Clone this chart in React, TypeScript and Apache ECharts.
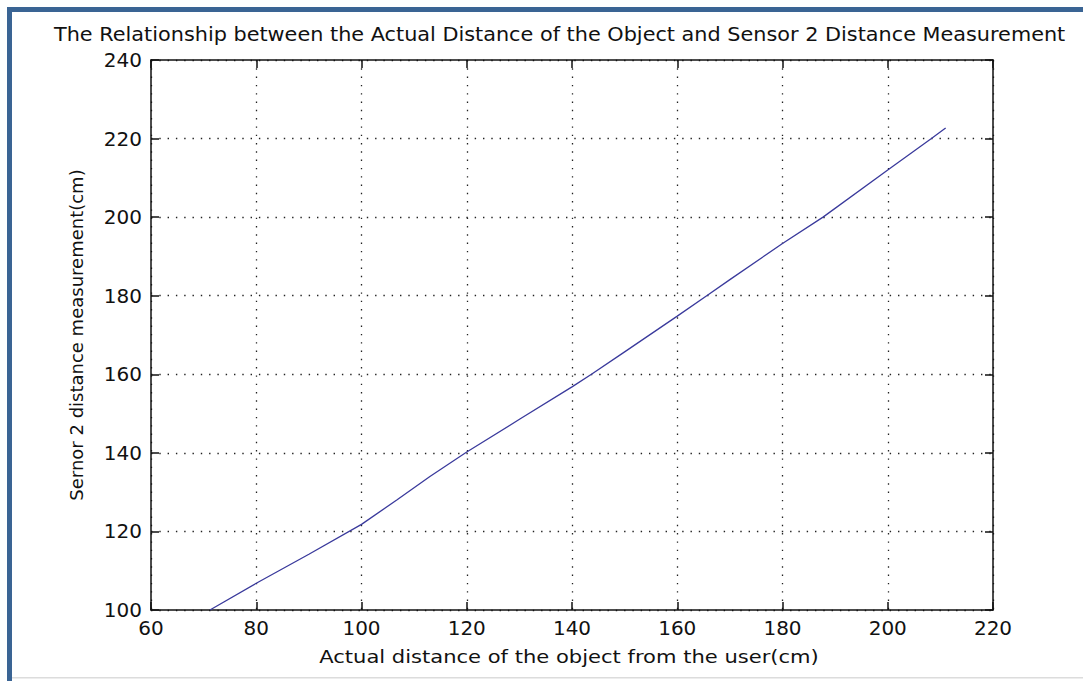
import React, { useEffect, useRef } from "react";
import * as echarts from "echarts";

const titleText =
  "The Relationship between the Actual Distance of the Object and Sensor 2 Distance Measurement";
const xAxisName = "Actual distance of the object from the user(cm)";
const yAxisName = "Sernor 2 distance measurement(cm)";

const actualDistance = [71.2, 80, 90, 100, 106.7, 113, 120, 130.1, 140, 143.7, 150, 160, 165.6, 170, 180, 187.7, 200, 208.3, 211];
const sensor2Measurement = [100, 106.8, 114.2, 121.8, 128, 134, 140.2, 148.6, 156.8, 160, 165.7, 174.8, 180, 184.1, 193.3, 200, 212, 220, 222.7];

const xMin = 60;
const xMax = 220;
const xStep = 20;
const yMin = 100;
const yMax = 240;
const yStep = 20;

export default function App() {
  const ref = useRef<HTMLDivElement>(null);
  useEffect(() => {
    if (!ref.current) return;
    const chart = echarts.init(ref.current, null, { renderer: "svg" });
    const font = "DejaVu Sans";
    const gridLine = {
      show: true,
      lineStyle: { color: "#222", width: 1.3, type: [1.4, 6.9] as any },
    };
    const axisLine = { show: true, onZero: false, lineStyle: { color: "#111", width: 1.5 } };
    const axisTick = { show: true, inside: true, length: 8, lineStyle: { color: "#111", width: 1.5 } };
    chart.setOption({
      animation: false,
      backgroundColor: "#ffffff",
      grid: { left: 151, right: 90, top: 60, bottom: 71, containLabel: false },
      xAxis: [
        {
          type: "value",
          min: xMin,
          max: xMax,
          interval: xStep,
          position: "bottom",
          axisLine,
          axisTick,
          axisLabel: { fontFamily: font, fontSize: 20, color: "#111", margin: 8 },
          splitLine: gridLine,
        },
        {
          type: "value",
          min: xMin,
          max: xMax,
          interval: xStep,
          position: "top",
          axisLine,
          axisTick,
          axisLabel: { show: false },
          splitLine: { show: false },
        },
      ],
      yAxis: [
        {
          type: "value",
          min: yMin,
          max: yMax,
          interval: yStep,
          position: "left",
          name: yAxisName,
          nameLocation: "middle",
          nameGap: 66,
          nameTextStyle: { fontFamily: font, fontSize: 18, color: "#111" },
          axisLine,
          axisTick,
          axisLabel: { fontFamily: font, fontSize: 20, color: "#111", margin: 9 },
          splitLine: gridLine,
        },
        {
          type: "value",
          min: yMin,
          max: yMax,
          interval: yStep,
          position: "right",
          axisLine,
          axisTick,
          axisLabel: { show: false },
          splitLine: { show: false },
        },
      ],
      series: [
        {
          type: "line",
          data: actualDistance.map((x, i) => [x, sensor2Measurement[i]]),
          showSymbol: false,
          smooth: false,
          lineStyle: { color: "#3a3a9c", width: 1.3 },
          z: 3,
        },
      ],
      graphic: [
        {
          type: "text",
          x: 54,
          y: 35,
          scaleX: 1.095,
          style: {
            text: titleText,
            fontFamily: font,
            fontSize: 19,
            fill: "#111",
            align: "left",
            verticalAlign: "middle",
          },
          z: 5,
        },
        {
          type: "text",
          x: 569,
          y: 657,
          scaleX: 1.17,
          style: {
            text: xAxisName,
            fontFamily: font,
            fontSize: 18,
            fill: "#111",
            align: "center",
            verticalAlign: "middle",
          },
          z: 5,
        },
        { type: "rect", shape: { x: 7, y: 7, width: 5, height: 674 }, style: { fill: "#3a6494" }, z: 10 },
        { type: "rect", shape: { x: 7, y: 7, width: 1076, height: 5 }, style: { fill: "#3a6494" }, z: 10 },
        { type: "rect", shape: { x: 12, y: 677, width: 1071, height: 1.5 }, style: { fill: "#dcdcdc" }, z: 10 },
      ],
    });
    return () => chart.dispose();
  }, []);
  return (
    <div
      ref={ref}
      style={{ position: "fixed", left: 0, top: 0, width: 1083, height: 681, background: "#fff" }}
    />
  );
}
